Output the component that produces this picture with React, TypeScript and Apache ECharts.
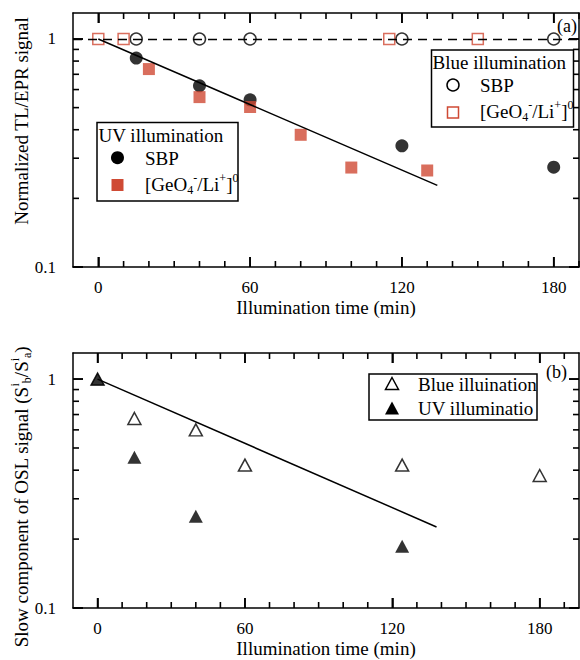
import React, { useEffect, useRef } from "react";
import * as echarts from "echarts";

// ---- tick values ----
const xMajor = [0, 60, 120, 180];
const xMinor = [10, 20, 30, 40, 50, 70, 80, 90, 100, 110, 130, 140, 150, 160, 170, 190];
const yMajor = [0.1, 1];
const yMinor = [0.2, 0.3, 0.4, 0.5, 0.6, 0.7, 0.8, 0.9];

// ---- panel (a): TL/EPR ----
const blueSbpTime = [15, 40, 60, 120, 180];
const blueSbpVal = [1, 1, 1, 1, 1];
const blueGeoTime = [0, 10, 115, 150];
const blueGeoVal = [1, 1, 1, 1];
const uvSbpTime = [15, 40, 60, 120, 180];
const uvSbpVal = [0.825, 0.623, 0.541, 0.34, 0.274];
const uvGeoTime = [20, 40, 60, 80, 100, 130];
const uvGeoVal = [0.738, 0.556, 0.503, 0.38, 0.273, 0.265];
const fitATime = [0, 134];
const fitAVal = [1, 0.228];
const refLevel = 1;

// ---- panel (b): OSL slow component ----
const blueOslTime = [0, 15, 40, 60, 124, 180];
const blueOslVal = [1, 0.673, 0.6, 0.421, 0.421, 0.379];
const uvOslTime = [0, 15, 40, 124];
const uvOslVal = [1, 0.456, 0.2515, 0.186];
const fitBTime = [0, 138];
const fitBVal = [1, 0.226];

const FONT = "Liberation Serif";
const RED = "#cf4a34";
const X_MIN = -10;
const Y_MIN = 0.1;
const Y_MAX = 1.3;
const zip = (a: number[], b: number[]) => a.map((v, i) => [v, b[i]]);

const GRIDS = [
  { left: 73, top: 13, width: 506, height: 254 },
  { left: 73, top: 353, width: 506, height: 255 },
];

function axesFor(gridIndex: number, xMax: number) {
  const line = () => ({ show: true, onZero: false, lineStyle: { color: "#000", width: 1.5 } });
  const tick = (vals: number[]) => ({
    show: true,
    inside: true,
    length: 10,
    customValues: vals,
    lineStyle: { color: "#000", width: 1.6 },
  });
  const xs = [
    {
      type: "value",
      gridIndex,
      min: X_MIN,
      max: xMax,
      splitLine: { show: false },
      position: "bottom",
      axisLine: line(),
      axisTick: tick(xMajor),
      axisLabel: { show: true, customValues: xMajor, margin: 12, color: "#000", fontFamily: FONT, fontSize: 17 },
      name: "Illumination time (min)",
      nameLocation: "middle",
      nameGap: 31,
      nameTextStyle: { color: "#000", fontFamily: FONT, fontSize: 19 },
    },
    {
      type: "value",
      gridIndex,
      min: X_MIN,
      max: xMax,
      splitLine: { show: false },
      position: "top",
      axisLine: line(),
      axisTick: tick(xMajor),
      axisLabel: { show: false },
    },
  ];
  const ys = [
    {
      type: "log",
      logBase: 10,
      gridIndex,
      min: Y_MIN,
      max: Y_MAX,
      splitLine: { show: false },
      position: "left",
      axisLine: line(),
      axisTick: tick(yMajor),
      axisLabel: {
        show: true,
        customValues: yMajor,
        margin: 17,
        color: "#000",
        fontFamily: FONT,
        fontSize: 17,
        formatter: (v: number) => String(+(+v).toPrecision(3)),
      },
    },
    {
      type: "log",
      logBase: 10,
      gridIndex,
      min: Y_MIN,
      max: Y_MAX,
      splitLine: { show: false },
      position: "right",
      axisLine: line(),
      axisTick: tick(yMajor),
      axisLabel: { show: false },
    },
  ];
  return { xs, ys };
}

const rich = {
  sup: { fontSize: 12, fontFamily: FONT, verticalAlign: "top", color: "#000" },
  sub: { fontSize: 12, fontFamily: FONT, verticalAlign: "bottom", color: "#000" },
};

function legendText(x: number, y: number, text: string) {
  return {
    type: "text",
    x,
    y,
    z: 101,
    style: {
      text,
      fontFamily: FONT,
      fontSize: 19,
      fill: "#000",
      verticalAlign: "middle",
      align: "left",
      lineHeight: 24,
      rich,
    },
  };
}

const baseGraphic: any[] = [
  {
    type: "text",
    x: 21,
    y: 121,
    rotation: Math.PI / 2,
    z: 100,
    style: {
      text: "Normalized TL/EPR signal",
      fontFamily: FONT,
      fontSize: 19,
      fill: "#000",
      align: "center",
      verticalAlign: "middle",
    },
  },
  {
    type: "text",
    x: 21,
    y: 497,
    rotation: Math.PI / 2,
    z: 100,
    style: {
      text: "Slow component of OSL signal (S{sup|i}{sub|b}/S{sup|i}{sub|a})",
      fontFamily: FONT,
      fontSize: 19,
      fill: "#000",
      align: "center",
      verticalAlign: "middle",
      lineHeight: 24,
      rich,
    },
  },
  { type: "text", x: 557, y: 26, z: 100, style: { text: "(a)", fontFamily: FONT, fontSize: 18, fill: "#000", verticalAlign: "middle" } },
  { type: "text", x: 546, y: 372, z: 100, style: { text: "(b)", fontFamily: FONT, fontSize: 18, fill: "#000", verticalAlign: "middle" } },
  { type: "rect", z: 100, shape: { x: 431.5, y: 50, width: 142, height: 77 }, style: { fill: "#fff", stroke: "#000", lineWidth: 1.5 } },
  legendText(432.5, 62, "Blue illumination"),
  { type: "circle", z: 101, shape: { cx: 453, cy: 85, r: 6 }, style: { fill: "#fff", stroke: "#000", lineWidth: 1.5 } },
  legendText(480, 85, "SBP"),
  { type: "rect", z: 101, shape: { x: 447.5, y: 107, width: 11, height: 11 }, style: { fill: "#fff", stroke: RED, lineWidth: 1.5 } },
  legendText(480, 111, "[GeO{sub|4}{sup|-}/Li{sup|+}]{sup|0}"),
  { type: "rect", z: 100, shape: { x: 97, y: 122.5, width: 141, height: 78.5 }, style: { fill: "#fff", stroke: "#000", lineWidth: 1.5 } },
  legendText(98.5, 135.5, "UV illumination"),
  { type: "circle", z: 101, shape: { cx: 117.5, cy: 157.7, r: 6.5 }, style: { fill: "#000" } },
  legendText(145, 158, "SBP"),
  { type: "rect", z: 101, shape: { x: 111.5, y: 179, width: 12, height: 12 }, style: { fill: RED } },
  legendText(145, 184, "[GeO{sub|4}{sup|-}/Li{sup|+}]{sup|0}"),
  { type: "rect", z: 100, shape: { x: 369, y: 374, width: 168, height: 46 }, style: { fill: "#fff", stroke: "#000", lineWidth: 1.5 } },
  {
    type: "polygon",
    z: 101,
    shape: { points: [[392, 377.5], [398.5, 389.5], [385.5, 389.5]] },
    style: { fill: "#fff", stroke: "#000", lineWidth: 1.5 },
  },
  legendText(418, 384, "Blue illuination"),
  {
    type: "polygon",
    z: 101,
    shape: { points: [[392, 401.5], [399, 414.5], [385, 414.5]] },
    style: { fill: "#000" },
  },
  legendText(418, 408.5, "UV illuminatio"),
];

export default function App() {
  const ref = useRef<HTMLDivElement>(null);
  useEffect(() => {
    if (!ref.current) return;
    const chart = echarts.init(ref.current, undefined, { renderer: "svg" });
    const X_MAX_A = 190;
    const X_MAX_B = 196;
    const a = axesFor(0, X_MAX_A);
    const b = axesFor(1, X_MAX_B);
    const option: any = {
      animation: false,
      backgroundColor: "#fff",
      grid: GRIDS,
      xAxis: [...a.xs, ...b.xs],
      yAxis: [...a.ys, ...b.ys],
      series: [
        {
          type: "line",
          xAxisIndex: 0,
          yAxisIndex: 0,
          data: zip(fitATime, fitAVal),
          symbol: "none",
          lineStyle: { color: "#000", width: 1.5 },
          markLine: {
            silent: true,
            symbol: "none",
            label: { show: false },
            lineStyle: { color: "#000", width: 1.3, type: [9, 6] },
            data: [{ yAxis: refLevel }],
          },
        },
        {
          type: "scatter",
          xAxisIndex: 0,
          yAxisIndex: 0,
          data: zip(blueSbpTime, blueSbpVal),
          symbol: "circle",
          symbolSize: 12,
          itemStyle: { color: "#fff", borderColor: "#000", borderWidth: 1.5 },
        },
        {
          type: "scatter",
          xAxisIndex: 0,
          yAxisIndex: 0,
          data: zip(blueGeoTime, blueGeoVal),
          symbol: "rect",
          symbolSize: 11,
          itemStyle: { color: "rgba(255,255,255,0)", borderColor: RED, borderWidth: 1.5 },
        },
        {
          type: "scatter",
          xAxisIndex: 0,
          yAxisIndex: 0,
          data: zip(uvSbpTime, uvSbpVal),
          symbol: "circle",
          symbolSize: 13,
          itemStyle: { color: "#000" },
        },
        {
          type: "scatter",
          xAxisIndex: 0,
          yAxisIndex: 0,
          data: zip(uvGeoTime, uvGeoVal),
          symbol: "rect",
          symbolSize: 12,
          itemStyle: { color: RED },
        },
        {
          type: "line",
          xAxisIndex: 2,
          yAxisIndex: 2,
          data: zip(fitBTime, fitBVal),
          symbol: "none",
          lineStyle: { color: "#000", width: 1.5 },
        },
        {
          type: "scatter",
          xAxisIndex: 2,
          yAxisIndex: 2,
          data: zip(blueOslTime, blueOslVal),
          symbol: "triangle",
          symbolSize: [13, 12],
          itemStyle: { color: "#fff", borderColor: "#000", borderWidth: 1.5 },
        },
        {
          type: "scatter",
          xAxisIndex: 2,
          yAxisIndex: 2,
          data: zip(uvOslTime, uvOslVal),
          symbol: "triangle",
          symbolSize: [14, 13],
          itemStyle: { color: "#000" },
        },
      ],
      graphic: baseGraphic,
    };
    chart.setOption(option);

    // minor + major ticks on all four sides, positioned through each panel's axes
    const tickEls: any[] = [];
    const st = { stroke: "#000", lineWidth: 1.6 };
    const panels = [
      { grid: GRIDS[0], axis: 0, xMax: X_MAX_A },
      { grid: GRIDS[1], axis: 2, xMax: X_MAX_B },
    ];
    panels.forEach((p) => {
      const g = p.grid;
      const top = g.top;
      const bottom = g.top + g.height;
      const left = g.left;
      const right = g.left + g.width;
      const px = (v: number) => chart.convertToPixel({ xAxisIndex: p.axis }, v) as number;
      const py = (v: number) => chart.convertToPixel({ yAxisIndex: p.axis }, v) as number;
      const addX = (v: number, len: number) => {
        if (v > p.xMax) return;
        const x = px(v);
        if (typeof x !== "number" || !isFinite(x)) return;
        tickEls.push({ type: "line", z: 200, silent: true, shape: { x1: x, y1: bottom, x2: x, y2: bottom - len }, style: st });
        tickEls.push({ type: "line", z: 200, silent: true, shape: { x1: x, y1: top, x2: x, y2: top + len }, style: st });
      };
      const addY = (v: number, len: number) => {
        const y = py(v);
        if (typeof y !== "number" || !isFinite(y)) return;
        tickEls.push({ type: "line", z: 200, silent: true, shape: { x1: left, y1: y, x2: left + len, y2: y }, style: st });
        tickEls.push({ type: "line", z: 200, silent: true, shape: { x1: right, y1: y, x2: right - len, y2: y }, style: st });
      };
      xMajor.forEach((v) => addX(v, 10));
      xMinor.forEach((v) => addX(v, 6));
      yMajor.forEach((v) => addY(v, 10));
      yMinor.forEach((v) => addY(v, 6));
    });
    chart.setOption({ graphic: [...baseGraphic, ...tickEls] });
    return () => chart.dispose();
  }, []);
  return (
    <div
      ref={ref}
      style={{ position: "fixed", left: 0, top: 0, width: 580, height: 660, background: "#fff" }}
    />
  );
}
